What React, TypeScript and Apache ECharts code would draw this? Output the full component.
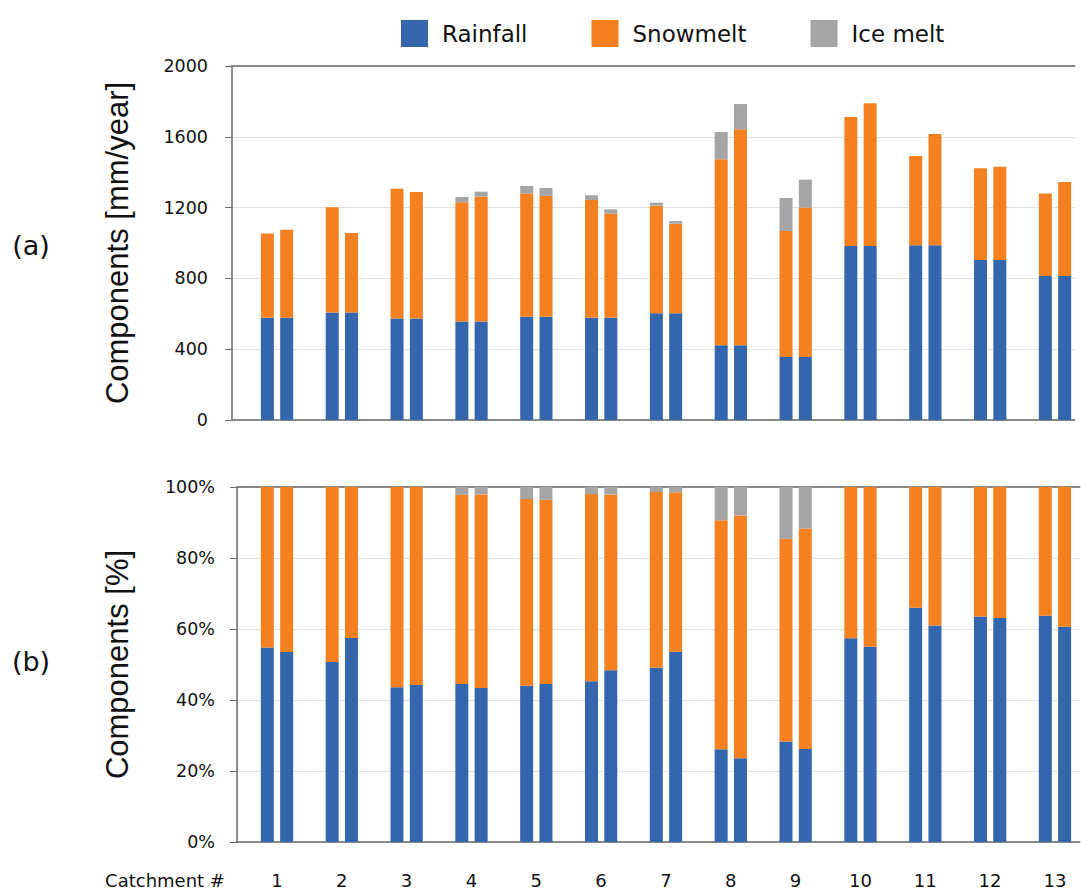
import React, { useEffect, useRef } from "react";
import * as echarts from "echarts";

// ---- data ----
const catchments = ["1", "2", "3", "4", "5", "6", "7", "8", "9", "10", "11", "12", "13"];
const seriesNames = ["Rainfall", "Snowmelt", "Ice melt"];

// (a) components in mm/year, left bar (A) and right bar (B) of each pair
const rainA = [578, 608, 573, 557, 584, 578, 603, 422, 356, 983, 987, 904, 814];
const snowA = [475, 594, 734, 673, 695, 665, 608, 1051, 712, 729, 505, 518, 465];
const iceA = [0, 0, 0, 30, 43, 27, 17, 154, 186, 0, 0, 0, 0];
const rainB = [578, 608, 573, 557, 584, 578, 603, 422, 356, 983, 987, 904, 814];
const snowB = [497, 449, 715, 705, 682, 588, 506, 1220, 844, 806, 629, 527, 531];
const iceB = [0, 0, 0, 28, 45, 24, 15, 143, 158, 0, 0, 0, 0];

// (b) components in %
const rainPctA = [54.8, 50.7, 43.6, 44.5, 44.0, 45.3, 49.1, 26.1, 28.3, 57.4, 66.0, 63.5, 63.7];
const snowPctA = [45.2, 49.3, 56.4, 53.3, 52.6, 52.7, 49.5, 64.5, 57.1, 42.6, 34.0, 36.5, 36.3];
const icePctA = [0, 0, 0, 2.2, 3.4, 2.0, 1.4, 9.4, 14.6, 0, 0, 0, 0];
const rainPctB = [53.5, 57.5, 44.2, 43.4, 44.5, 48.4, 53.6, 23.6, 26.2, 55.0, 61.0, 63.1, 60.6];
const snowPctB = [46.5, 42.5, 55.8, 54.5, 51.9, 49.5, 44.9, 68.4, 62.1, 45.0, 39.0, 36.9, 39.4];
const icePctB = [0, 0, 0, 2.1, 3.6, 2.1, 1.5, 8.0, 11.7, 0, 0, 0, 0];

const yTicksA = [0, 400, 800, 1200, 1600, 2000];
const yTicksB = [0, 20, 40, 60, 80, 100];

const COLORS = ["#3466ae", "#f58020", "#a5a5a5"];
const AXIS_COLOR = "#6a6a6a";
const GRID_COLOR = "#e2e2e2";
const TEXT_COLOR = "#111111";
const FONT = "DejaVu Sans";
const TITLE_FONT = "Liberation Sans";

export default function App() {
  const ref = useRef<HTMLDivElement>(null);

  useEffect(() => {
    if (!ref.current) return;
    const chart = echarts.init(ref.current, undefined, { renderer: "svg" });

    const BAR_W = 13;
    const GAP = "48.5%";
    const empty = catchments.map(() => null);

    const stackSeries = (
      xi: number,
      yi: number,
      stack: string,
      values: number[][]
    ) =>
      values.map((vals, k) => ({
        name: seriesNames[k],
        type: "bar",
        xAxisIndex: xi,
        yAxisIndex: yi,
        stack,
        barWidth: BAR_W,
        barGap: GAP,
        itemStyle: { color: COLORS[k] },
        data: vals,
      }));

    const padSeries = (xi: number, yi: number, w: number, stack: string) => ({
      type: "bar",
      xAxisIndex: xi,
      yAxisIndex: yi,
      stack,
      barWidth: w,
      barGap: GAP,
      silent: true,
      itemStyle: { color: "rgba(0,0,0,0)" },
      data: empty,
    });

    const catAxis = (gridIndex: number, position: string, labels: boolean) => ({
      type: "category",
      gridIndex,
      position,
      data: catchments,
      axisLine: { show: true, lineStyle: { color: AXIS_COLOR, width: 1.5 } },
      axisTick: { show: false },
      axisLabel: labels
        ? {
            show: true,
            fontSize: 18,
            color: TEXT_COLOR,
            margin: 29,
            fontFamily: FONT,
            padding: [0, 0, 0, 15],
          }
        : { show: false },
      splitLine: { show: false },
    });

    const valAxis = (
      gridIndex: number,
      ticks: number[],
      name: string,
      nameGap: number,
      margin: number,
      suffix: string
    ) => ({
      type: "value",
      gridIndex,
      min: ticks[0],
      max: ticks[ticks.length - 1],
      interval: ticks[1] - ticks[0],
      name,
      nameLocation: "middle",
      nameGap,
      nameRotate: 90,
      nameTextStyle: { fontSize: 31, color: TEXT_COLOR, fontFamily: TITLE_FONT },
      axisLine: { show: true, lineStyle: { color: AXIS_COLOR, width: 1.5 } },
      axisTick: { show: true, inside: false, length: 7, lineStyle: { color: AXIS_COLOR } },
      axisLabel: {
        fontSize: 17.5,
        color: TEXT_COLOR,
        margin,
        fontFamily: FONT,
        formatter: (v: number) => String(v) + suffix,
      },
      splitLine: { show: true, lineStyle: { color: GRID_COLOR, width: 1 } },
    });

    chart.setOption({
      animation: false,
      backgroundColor: "#ffffff",
      textStyle: { fontFamily: FONT },
      legend: {
        data: seriesNames,
        left: 396,
        top: 15,
        icon: "rect",
        itemWidth: 27,
        itemHeight: 27,
        itemGap: 64,
        textStyle: { fontSize: 23, color: TEXT_COLOR, fontFamily: FONT, padding: [0, 0, 0, 9] },
      },
      grid: [
        { left: 232, top: 66, width: 842.8, height: 354 },
        { left: 237, top: 487, width: 842.8, height: 355 },
      ],
      xAxis: [
        catAxis(0, "bottom", false),
        catAxis(0, "top", false),
        catAxis(1, "bottom", true),
        catAxis(1, "top", false),
      ],
      yAxis: [
        valAxis(0, yTicksA, "Components [mm/year]", 99, 24, ""),
        valAxis(1, yTicksB, "Components [%]", 104, 22, "%"),
      ],
      graphic: [
        {
          type: "text",
          x: 31,
          y: 245,
          style: { text: "(a)", fontSize: 27, fill: TEXT_COLOR, fontFamily: FONT, align: "center", verticalAlign: "middle" },
        },
        {
          type: "text",
          x: 31,
          y: 661,
          style: { text: "(b)", fontSize: 27, fill: TEXT_COLOR, fontFamily: FONT, align: "center", verticalAlign: "middle" },
        },
        {
          type: "text",
          x: 165,
          y: 880,
          style: { text: "Catchment #", fontSize: 18, fill: TEXT_COLOR, fontFamily: FONT, align: "center", verticalAlign: "middle" },
        },
      ],
      series: [
        padSeries(0, 0, 17, "padA"),
        ...stackSeries(0, 0, "a1", [rainA, snowA, iceA]),
        ...stackSeries(0, 0, "a2", [rainB, snowB, iceB]),
        padSeries(2, 1, 10.2, "padB"),
        ...stackSeries(2, 1, "b1", [rainPctA, snowPctA, icePctA]),
        ...stackSeries(2, 1, "b2", [rainPctB, snowPctB, icePctB]),
      ],
    });

    return () => chart.dispose();
  }, []);

  return (
    <div
      ref={ref}
      style={{ position: "absolute", left: 0, top: 0, width: 1081, height: 891, background: "#fff" }}
    />
  );
}
